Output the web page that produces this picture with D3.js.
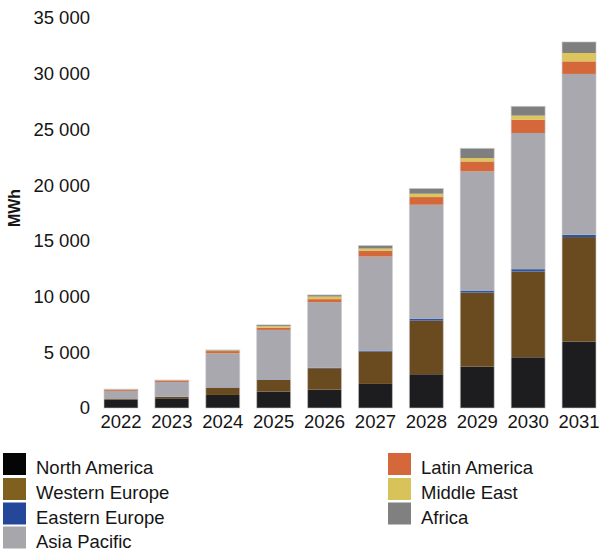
<!DOCTYPE html>
<html>
<head>
<meta charset="utf-8">
<script src="https://cdn.jsdelivr.net/npm/d3@7"></script>
<style>
  html, body { margin: 0; padding: 0; background: #fff; }
  svg { display: block; font-family: "Liberation Sans", Arial, sans-serif; }
</style>
</head>
<body>
<svg id="chart" width="600" height="550"></svg>
<script>
const years = ["2022","2023","2024","2025","2026","2027","2028","2029","2030","2031"];
const seriesNames = ["North America","Western Europe","Eastern Europe","Asia Pacific","Latin America","Middle East","Africa"];
const northAmerica  = [760, 870, 1170, 1470, 1650, 2160, 3030, 3710, 4550, 5960];
const westernEurope = [80, 120, 650, 1050, 1920, 2900, 4810, 6650, 7700, 9380];
const easternEurope = [20, 20, 30, 40, 50, 60, 180, 180, 210, 210];
const asiaPacific   = [680, 1330, 3060, 4450, 5880, 8470, 10220, 10690, 12220, 14430];
const latinAmerica  = [110, 130, 200, 180, 270, 510, 690, 900, 1200, 1130];
const middleEast    = [20, 20, 50, 150, 230, 210, 300, 300, 360, 750];
const africa        = [20, 20, 50, 120, 150, 270, 470, 870, 830, 990];
const yTicks = [0, 5000, 10000, 15000, 20000, 25000, 30000, 35000];
const yLabel = "MWh";
const colors = ["#1d1d1f", "#6a4b1f", "#2b55a5", "#a8a8ae", "#d4683a", "#dcc55a", "#7f7f7f"];
const legendColors = ["#050505", "#80601f", "#24479a", "#a6a6ab", "#d4683a", "#d8c25a", "#808080"];

const allSeries = [northAmerica, westernEurope, easternEurope, asiaPacific, latinAmerica, middleEast, africa];
const table = years.map((y, i) => {
  const row = { year: y };
  seriesNames.forEach((s, k) => row[s] = allSeries[k][i]);
  return row;
});

const svg = d3.select("#chart");
const x = d3.scaleBand().domain(years).range([104, 596]).paddingInner(1/3).paddingOuter(0);
const y = d3.scaleLinear().domain([0, 35000]).range([408, 18]);
const color = d3.scaleOrdinal().domain(seriesNames).range(colors);

const stack = d3.stack().keys(seriesNames)(table);

svg.append("g").selectAll("g").data(stack).join("g")
  .attr("fill", d => color(d.key))
  .selectAll("rect").data(d => d).join("rect")
  .attr("x", d => x(d.data.year))
  .attr("width", x.bandwidth())
  .attr("y", d => y(d[1]))
  .attr("height", d => y(d[0]) - y(d[1]));

// bar outline (soft edge)
svg.append("g").selectAll("rect").data(table).join("rect")
  .attr("x", d => x(d.year))
  .attr("width", x.bandwidth())
  .attr("y", d => y(d3.sum(seriesNames, s => d[s])))
  .attr("height", d => y(0) - y(d3.sum(seriesNames, s => d[s])))
  .attr("fill", "none")
  .attr("stroke", "rgba(200,200,205,0.6)")
  .attr("stroke-width", 1);

const fmt = v => d3.format(",")(v).replace(/,/g, " ");

const yAxis = d3.axisLeft(y).tickValues(yTicks).tickFormat(fmt).tickSize(0).tickPadding(0);
const gy = svg.append("g").attr("transform", "translate(90,0)").call(yAxis);
gy.select(".domain").remove();
gy.selectAll("text").attr("font-size", 18.5).attr("fill", "#151515")
  .attr("font-family", "Liberation Sans, Arial, sans-serif");

const xAxis = d3.axisBottom(x).tickSize(0).tickPadding(0);
const gx = svg.append("g").attr("transform", "translate(0,415)").call(xAxis);
gx.select(".domain").remove();
gx.selectAll("text").attr("font-size", 18.5).attr("fill", "#151515")
  .attr("font-family", "Liberation Sans, Arial, sans-serif");

svg.append("text")
  .attr("transform", "translate(20,208) rotate(-90)")
  .attr("text-anchor", "middle")
  .attr("font-size", 16)
  .attr("font-weight", "bold")
  .attr("fill", "#151515")
  .text(yLabel);

// legend
const legendPos = [
  [3, 453], [3, 478], [3, 502.5], [3, 526.5],
  [388, 453], [388, 478], [388, 502.5]
];
const lg = svg.append("g").selectAll("g").data(seriesNames).join("g")
  .attr("transform", (d, i) => `translate(${legendPos[i][0]},${legendPos[i][1]})`);
lg.append("rect").attr("width", 23).attr("height", 22)
  .attr("fill", (d, i) => legendColors[i]);
lg.append("text").attr("x", 33).attr("y", 21)
  .attr("font-size", 18.5).attr("fill", "#151515")
  .text(d => d);
</script>
</body>
</html>
